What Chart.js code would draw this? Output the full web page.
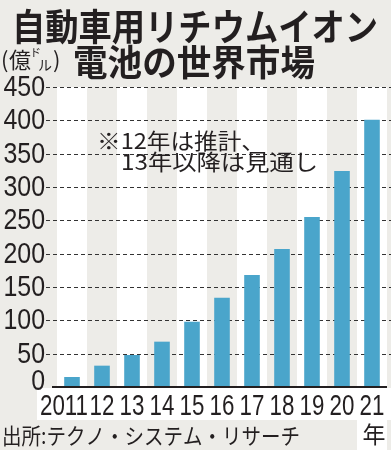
<!DOCTYPE html>
<html>
<head>
<meta charset="utf-8">
<script src="https://cdn.jsdelivr.net/npm/chart.js@4/dist/chart.umd.min.js"></script>
<style>
html,body{margin:0;padding:0;background:#edece8;}
#wrap{width:391px;height:450px;}
</style>
</head>
<body>
<div id="wrap"><canvas id="c" width="391" height="450"></canvas></div>
<script>
const categories = ['2011','12','13','14','15','16','17','18','19','20','21'];
const marketValues = [15, 32, 48, 68, 98, 134, 168, 207, 255, 324, 401];
const yTicks = [0, 50, 100, 150, 200, 250, 300, 350, 400, 450];
const titleLine1 = '自動車用リチウムイオン';
const titleLine2 = '電池の世界市場';
const noteLine1 = '※12年は推計、';
const noteLine2 = '13年以降は見通し';
const sourceText = '出所:テクノ・システム・リサーチ';
const unitMain = '億';
const yearUnit = '年';

const GRAY = '#edece8';
const INK = '#231f20';
const NUMFONT = '"Liberation Sans", Arial, sans-serif';
const JP = '"Noto Sans CJK JP", sans-serif';

function fitText(ctx, text, x, yMid, width, font, color) {
  ctx.save();
  ctx.font = font;
  ctx.fillStyle = color || INK;
  const w = ctx.measureText(text).width;
  ctx.translate(x, yMid);
  ctx.scale(width / w, 1);
  ctx.textAlign = 'left';
  ctx.textBaseline = 'middle';
  ctx.fillText(text, 0, 0);
  ctx.restore();
}

// draw condensed text; align 'left' | 'center' | 'right'
function condText(ctx, text, x, yMid, sx, font, align) {
  ctx.save();
  ctx.font = font;
  ctx.fillStyle = INK;
  ctx.translate(x, yMid);
  ctx.scale(sx, 1);
  ctx.textAlign = align;
  ctx.textBaseline = 'middle';
  ctx.fillText(text, 0, 0);
  ctx.restore();
}

const decor = {
  id: 'decor',
  beforeDraw(chart) {
    const ctx = chart.ctx, ca = chart.chartArea, xs = chart.scales.x;
    ctx.save();
    ctx.fillStyle = GRAY;
    ctx.fillRect(0, 0, chart.width, chart.height);
    ctx.fillStyle = '#ffffff';
    const step = xs.getPixelForValue(1) - xs.getPixelForValue(0);
    categories.forEach((c, i) => {
      if (i % 2 === 0) {
        const cx = xs.getPixelForValue(i);
        ctx.fillRect(cx - step / 2, ca.top, step, ca.bottom - ca.top);
      }
    });
    // white strip behind year labels
    ctx.fillRect(37, ca.bottom + 1, chart.width - 37, 32);
    const lastX = xs.getPixelForValue(categories.length - 1);
    ctx.fillRect(lastX - step / 2, ca.bottom + 32, step, chart.height - ca.bottom - 32);
    ctx.restore();
  },
  beforeDatasetsDraw(chart) {
    const ctx = chart.ctx, ys = chart.scales.y;
    ctx.save();
    ctx.strokeStyle = '#333';
    ctx.lineWidth = 1;
    ctx.setLineDash([4, 3]);
    yTicks.forEach(v => {
      if (v === 0) return;
      const y = Math.round(ys.getPixelForValue(v)) + 0.5;
      ctx.beginPath();
      ctx.moveTo(46, y);
      ctx.lineTo(chart.width, y);
      ctx.stroke();
    });
    ctx.restore();
  },
  afterDraw(chart) {
    const ctx = chart.ctx, ca = chart.chartArea, xs = chart.scales.x, ys = chart.scales.y;
    // baseline
    ctx.save();
    ctx.strokeStyle = INK;
    ctx.lineWidth = 2;
    ctx.beginPath();
    const y0 = ys.getPixelForValue(0);
    ctx.moveTo(52, y0);
    ctx.lineTo(ca.right, y0);
    ctx.stroke();
    ctx.restore();

    // y tick labels
    yTicks.forEach(v => {
      const y = Math.min(ys.getPixelForValue(v), ca.bottom - 6);
      condText(ctx, String(v), 45, y + 1, 0.86, '29px ' + NUMFONT, 'right');
    });

    // titles
    fitText(ctx, titleLine1, 12, 27, 366, 'bold 37px ' + JP);
    fitText(ctx, titleLine2, 73, 62, 242, 'bold 36px ' + JP);

    // unit (億ドル)
    ctx.save();
    ctx.fillStyle = INK;
    ctx.textBaseline = 'middle';
    ctx.textAlign = 'left';
    ctx.font = '22px ' + JP;
    ctx.fillText('(', 1, 60);
    ctx.fillText(unitMain, 9, 60);
    ctx.fillText(')', 53, 60);
    ctx.font = '11px ' + JP;
    ctx.fillText('ド', 30, 53);
    ctx.font = '14px ' + JP;
    ctx.fillText('ル', 38, 65);
    ctx.restore();

    // note
    fitText(ctx, noteLine1, 97, 141, 168, '22px ' + JP);
    fitText(ctx, noteLine2, 121, 162, 197, '22px ' + JP);

    // source
    fitText(ctx, sourceText, 2, 436, 298, '22px ' + JP);

    // x labels
    categories.forEach((c, i) => {
      const cx = xs.getPixelForValue(i);
      if (i === 0) {
        condText(ctx, c, cx + 16, ca.bottom + 20, 0.77, '29px ' + NUMFONT, 'right');
      } else {
        condText(ctx, c, cx, ca.bottom + 20, 0.77, '29px ' + NUMFONT, 'center');
      }
    });
    ctx.save();
    ctx.fillStyle = INK;
    ctx.font = '23px ' + JP;
    ctx.textAlign = 'center';
    ctx.textBaseline = 'middle';
    ctx.fillText(yearUnit, xs.getPixelForValue(categories.length - 1) + 2, 434);
    ctx.restore();
  }
};

new Chart(document.getElementById('c'), {
  type: 'bar',
  data: {
    labels: categories,
    datasets: [{
      data: marketValues,
      backgroundColor: '#4aa5cb',
      borderWidth: 0,
      categoryPercentage: 1,
      barPercentage: 0.52
    }]
  },
  options: {
    responsive: false,
    animation: false,
    devicePixelRatio: 1,
    layout: { padding: { top: 87, right: 4, left: 0, bottom: 0 } },
    plugins: { legend: { display: false }, tooltip: { enabled: false }, title: { display: false } },
    scales: {
      x: {
        grid: { display: false },
        border: { display: false },
        ticks: { display: false },
        afterFit(s) { s.height = 63; }
      },
      y: {
        min: 0,
        max: 450,
        afterBuildTicks(s) { s.ticks = yTicks.map(v => ({ value: v })); },
        ticks: { display: false },
        grid: { display: false },
        border: { display: false },
        afterFit(s) { s.width = 57; }
      }
    }
  },
  plugins: [decor]
});
</script>
</body>
</html>
